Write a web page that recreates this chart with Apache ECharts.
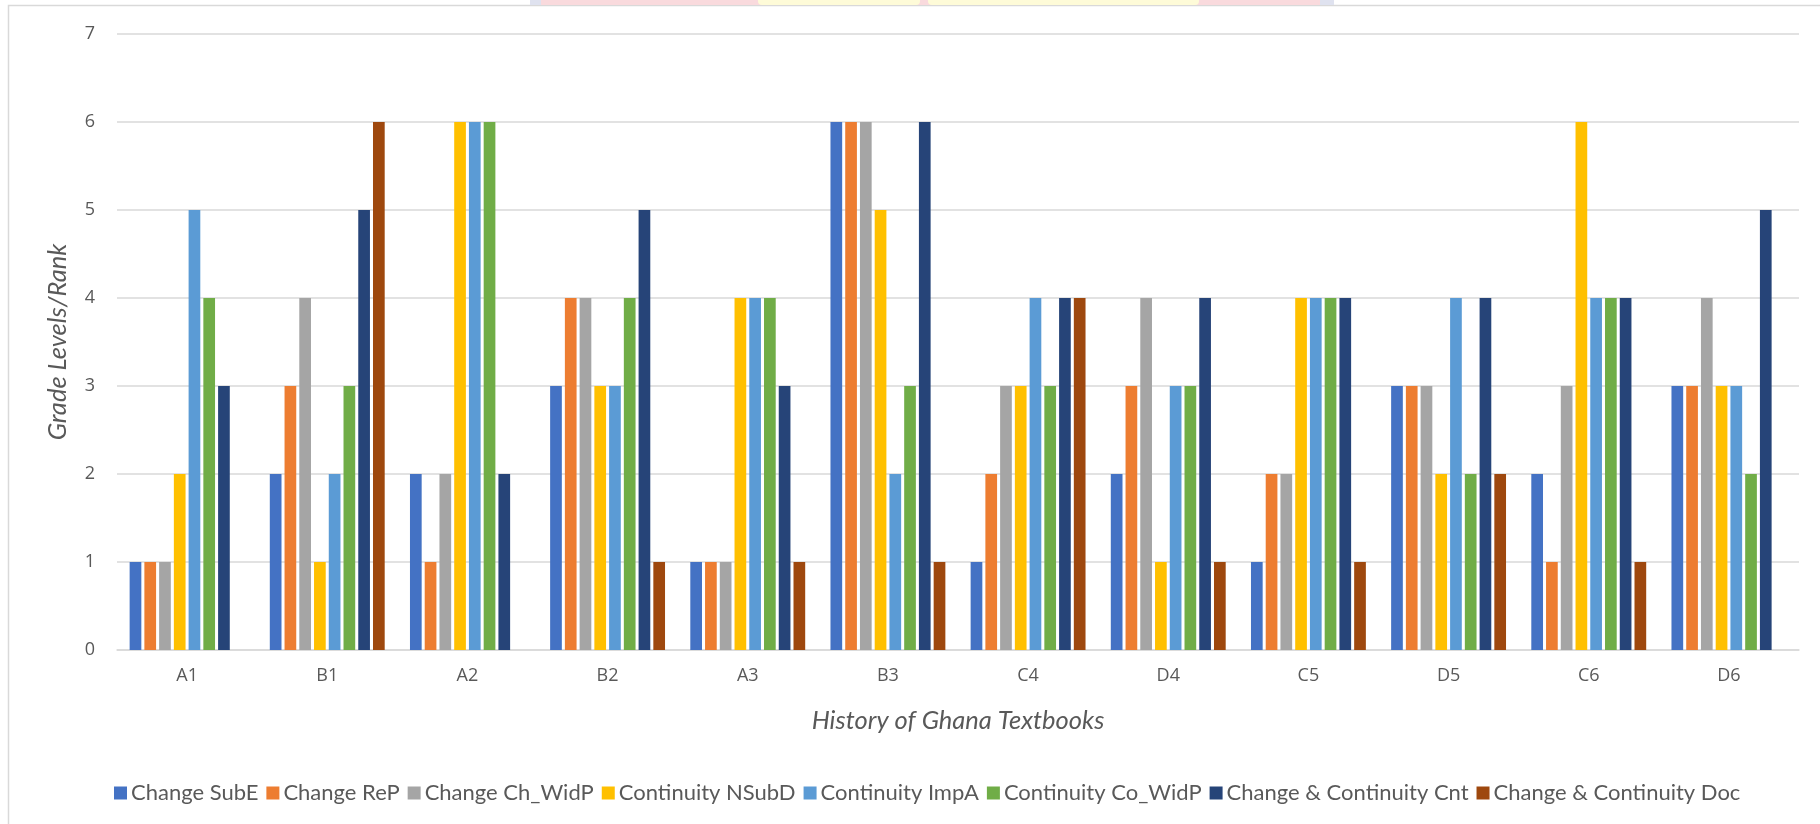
<!DOCTYPE html>
<html>
<head>
<meta charset="utf-8">
<title>History of Ghana Textbooks</title>
<script src="https://cdn.jsdelivr.net/npm/echarts@6/dist/echarts.min.js"></script>
<style>
  html, body { margin: 0; padding: 0; background: #ffffff; }
  #chart { width: 1820px; height: 824px; }
</style>
</head>
<body>
<div id="chart"></div>
<script>
// Textbooks on the category axis
const textbooks = ['A1', 'B1', 'A2', 'B2', 'A3', 'B3', 'C4', 'D4', 'C5', 'D5', 'C6', 'D6'];

// Grade level / rank per indicator (0 = not drawn)
const changeSubE        = [1, 2, 2, 3, 1, 6, 1, 2, 1, 3, 2, 3];
const changeReP         = [1, 3, 1, 4, 1, 6, 2, 3, 2, 3, 1, 3];
const changeChWidP      = [1, 4, 2, 4, 1, 6, 3, 4, 2, 3, 3, 4];
const continuityNSubD   = [2, 1, 6, 3, 4, 5, 3, 1, 4, 2, 6, 3];
const continuityImpA    = [5, 2, 6, 3, 4, 2, 4, 3, 4, 4, 4, 3];
const continuityCoWidP  = [4, 3, 6, 4, 4, 3, 3, 3, 4, 2, 4, 2];
const changeContCnt     = [3, 5, 2, 5, 3, 6, 4, 4, 4, 4, 4, 5];
const changeContDoc     = [0, 6, 0, 1, 1, 1, 4, 1, 1, 2, 1, 0];

const seriesNames = [
  'Change SubE', 'Change ReP', 'Change Ch_WidP', 'Continuity NSubD',
  'Continuity ImpA', 'Continuity Co_WidP', 'Change & Continuity Cnt', 'Change & Continuity Doc'
];
const seriesValues = [
  changeSubE, changeReP, changeChWidP, continuityNSubD,
  continuityImpA, continuityCoWidP, changeContCnt, changeContDoc
];
const seriesColors = ['#4472C4', '#ED7D31', '#A5A5A5', '#FFC000', '#5B9BD5', '#70AD47', '#264478', '#9E480E'];

const yTicks = [0, 7, 1]; // min, max, step

const textColor = '#595959';
const gridColor = '#d9d9d9';

const chart = echarts.init(document.getElementById('chart'), null, { renderer: 'canvas' });

const series = seriesNames.map((name, i) => ({
  name: name,
  type: 'bar',
  data: seriesValues[i].map(v => (v === 0 ? null : v)),
  itemStyle: { color: seriesColors[i] },
  barWidth: 11.7,
  barGap: '26%',
  emphasis: { disabled: true }
}));

chart.setOption({
  backgroundColor: '#ffffff',
  animation: false,
  color: seriesColors,
  grid: { left: 117, right: 21, top: 34, bottom: 174, containLabel: false },
  graphic: [
    // frame around the chart area
    {
      type: 'polyline',
      shape: { points: [[8.5, 830], [8.5, 5.5], [1830, 5.5]] },
      style: { stroke: gridColor, lineWidth: 1.5, fill: null },
      silent: true
    },
    // coloured band along the top edge
    { type: 'rect', shape: { x: 530, y: 0, width: 12, height: 5 }, style: { fill: '#dfe2ef' }, silent: true },
    { type: 'rect', shape: { x: 541, y: 0, width: 779, height: 5 }, style: { fill: '#f9dadd' }, silent: true },
    { type: 'rect', shape: { x: 1320, y: 0, width: 14, height: 5 }, style: { fill: '#dfe2ef' }, silent: true },
    { type: 'rect', shape: { x: 758, y: 0, width: 162, height: 5, r: [0, 0, 4, 4] }, style: { fill: '#fefbd8' }, silent: true },
    { type: 'rect', shape: { x: 928, y: 0, width: 271, height: 5, r: [0, 0, 4, 4] }, style: { fill: '#fefbd8' }, silent: true }
  ],
  legend: {
    data: seriesNames,
    left: 109,
    top: 777,
    icon: 'rect',
    itemWidth: 13,
    itemHeight: 13,
    itemGap: 8,
    selectedMode: false,
    textStyle: { color: textColor, fontFamily: 'Lato', fontSize: 22, padding: [0, 0, 0, -1] }
  },
  xAxis: {
    type: 'category',
    data: textbooks,
    axisLine: { show: true, lineStyle: { color: gridColor, width: 1.5 } },
    axisTick: { show: false },
    axisLabel: { color: textColor, fontFamily: 'Open Sans', fontSize: 18, margin: 17 },
    name: 'History of Ghana Textbooks',
    nameLocation: 'middle',
    nameGap: 58,
    nameTextStyle: { color: textColor, fontFamily: 'Lato', fontStyle: 'italic', fontSize: 25.5 }
  },
  yAxis: {
    type: 'value',
    min: yTicks[0],
    max: yTicks[1],
    interval: yTicks[2],
    axisLine: { show: false },
    axisTick: { show: false },
    splitLine: { show: true, lineStyle: { color: gridColor, width: 1.5 } },
    axisLabel: { color: textColor, fontFamily: 'Open Sans', fontSize: 18, margin: 22 },
    name: 'Grade Levels/Rank',
    nameLocation: 'middle',
    nameGap: 46,
    nameRotate: 90,
    nameTextStyle: { color: textColor, fontFamily: 'Lato', fontStyle: 'italic', fontSize: 25.5 }
  },
  series: series
});
</script>
</body>
</html>
